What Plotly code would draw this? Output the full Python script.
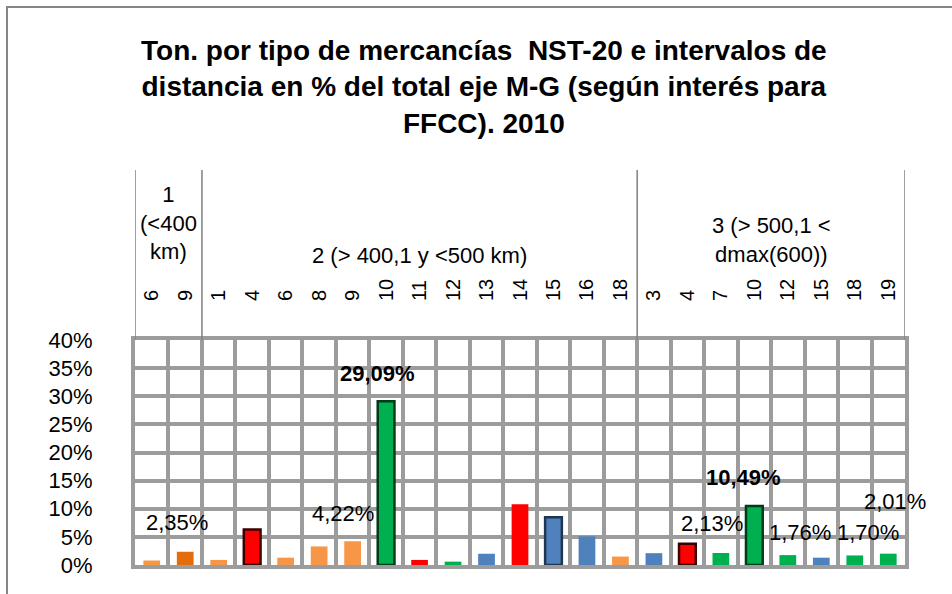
import plotly.graph_objects as go

# ---- data ----
group_names = ["1<br>(&lt;400<br>km)", "2 (&gt; 400,1 y &lt;500 km)", "3 (&gt; 500,1 &lt;<br>dmax(600))"]
group1_codes = ["6", "9"]
group2_codes = ["1", "4", "6", "8", "9", "10", "11", "12", "13", "14", "15", "16", "18"]
group3_codes = ["3", "4", "7", "10", "12", "15", "18", "19"]

group1_values = [0.8, 2.35]
group2_values = [0.9, 6.3, 1.3, 3.3, 4.22, 29.09, 0.9, 0.6, 2.0, 10.8, 8.5, 5.1, 1.5]
group3_values = [2.1, 3.8, 2.13, 10.49, 1.76, 1.3, 1.70, 2.01]

# colour key per bar
LO, DO, RD, GR, BL = "#F79646", "#E46C0A", "#FF0000", "#00B050", "#4F81BD"
group1_colors = [LO, DO]
group2_colors = [LO, RD, LO, LO, LO, GR, RD, GR, BL, RD, BL, BL, LO]
group3_colors = [BL, RD, GR, GR, GR, BL, GR, GR]
group1_outline = [False, False]
group2_outline = [False, True, False, False, False, True, False, False, False, False, True, False, False]
group3_outline = [False, True, False, True, False, False, False, False]

# labelled bars (index, bold, xshift, yshift)
labelled = [(1, False, -8, 29), (6, False, -10, 28), (7, True, -9, 28), (17, False, -9, 30),
            (18, True, -11, 28), (19, False, 12, 23), (21, False, 13, 23), (22, False, 7, 52)]

codes = group1_codes + group2_codes + group3_codes
values = group1_values + group2_values + group3_values
colors = group1_colors + group2_colors + group3_colors
outlines = group1_outline + group2_outline + group3_outline
idx = list(range(len(codes)))

outline_color = {RD: "#3a0000", GR: "#003a18", BL: "#1F3550"}
line_colors = [outline_color.get(c, c) if o else c for c, o in zip(colors, outlines)]
line_widths = [2.5 if o else 0 for o in outlines]

FONT = "Liberation Sans, Arial, sans-serif"
GRID = "#9c9c9c"

# layout geometry (pixels)
L, R, T, B = 135, 47, 340, 29
W, H = 952, 594
pw, ph = W - L - R, H - T - B

def px2paper_x(px):
    return (px - L) / pw

def px2paper_y(py):
    return (H - B - py) / ph

fig = go.Figure()
fig.add_trace(go.Bar(
    x=idx, y=values, width=0.5,
    marker=dict(color=colors, line=dict(color=line_colors, width=line_widths)),
    hoverinfo="skip",
))

n = len(codes)
bounds = [i - 0.5 for i in range(n + 1)]

fig.update_layout(
    width=W, height=H,
    margin=dict(l=L, r=R, t=T, b=B, autoexpand=False),
    paper_bgcolor="white", plot_bgcolor="white",
    showlegend=False,
    font=dict(family=FONT, size=22, color="black"),
    xaxis=dict(
        range=[-0.5, n - 0.5], side="top",
        tickmode="array", tickvals=idx, ticktext=codes, tickangle=-90,
        tickfont=dict(size=20),
        ticks="outside", ticklen=31, tickcolor="rgba(0,0,0,0)",
        showgrid=False, zeroline=False,
        showline=True, mirror=True, linecolor=GRID, linewidth=4,
        minor=dict(tickmode="array", tickvals=bounds, showgrid=True,
                   gridcolor=GRID, gridwidth=4, ticks=""),
        automargin=False, fixedrange=True,
    ),
    yaxis=dict(
        range=[0, 40], dtick=5, ticksuffix="%",
        tickfont=dict(size=22),
        ticks="outside", ticklen=34, tickcolor="rgba(0,0,0,0)",
        showgrid=True, gridcolor=GRID, gridwidth=4,
        zeroline=False,
        showline=True, mirror=True, linecolor=GRID, linewidth=4,
        automargin=False, fixedrange=True,
    ),
)

# outer chart border
fig.add_shape(type="rect", xref="paper", yref="paper",
              x0=px2paper_x(7), x1=px2paper_x(1000), y0=px2paper_y(7), y1=px2paper_y(650),
              line=dict(color="#868686", width=2), fillcolor="rgba(0,0,0,0)", layer="below")

# group separators above the plot
for xb in [-0.5, 1.5, 14.5, 22.5]:
    fig.add_shape(type="line", xref="x", yref="paper", x0=xb, x1=xb,
                  y0=1.0, y1=px2paper_y(170), line=dict(color="#808080", width=1.5))

# group labels
group_x = [0.5, 8.0, 18.5]
group_y = [223, 255, 240]
for name, gx, gy in zip(group_names, group_x, group_y):
    fig.add_annotation(x=gx, y=px2paper_y(gy), xref="x", yref="paper", text=name,
                       showarrow=False, xanchor="center", yanchor="middle",
                       font=dict(size=22, family=FONT))

# title
fig.add_annotation(
    x=px2paper_x(484), y=px2paper_y(87), xref="paper", yref="paper",
    text="<b>Ton. por tipo de mercancías  NST-20 e intervalos de<br>"
         "distancia en % del total eje M-G (según interés para<br>FFCC). 2010</b>",
    showarrow=False, xanchor="center", yanchor="middle",
    font=dict(size=28, family=FONT))

# data labels
for i, bold, xs, ys in labelled:
    txt = f"{values[i]:.2f}%".replace(".", ",")
    if bold:
        txt = f"<b>{txt}</b>"
    fig.add_annotation(x=i, y=values[i], xref="x", yref="y", text=txt, showarrow=False,
                       xshift=xs, yshift=ys, xanchor="center", yanchor="middle",
                       font=dict(size=22, family=FONT))

fig.write_html("out.html",
               config={"displayModeBar": False, "staticPlot": True},
               post_script="document.body.style.margin='0';document.body.style.overflow='hidden';")
